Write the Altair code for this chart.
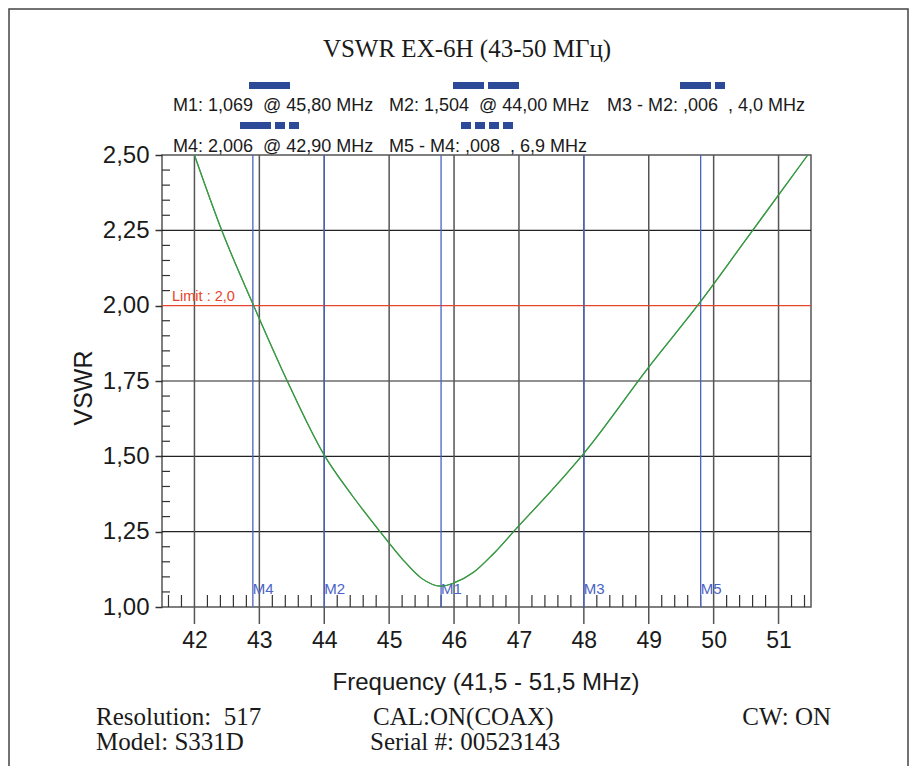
import altair as alt
import pandas as pd

# ---------------- data ----------------
freq_mhz = [42.0, 42.42, 42.9, 43.43, 44.0, 44.43, 44.86, 45.2, 45.5, 45.8, 46.0, 46.3,
            46.6, 47.0, 47.5, 48.0, 49.0, 49.8, 50.5, 51.45]
vswr = [2.50, 2.25, 2.006, 1.75, 1.504, 1.37, 1.25, 1.16, 1.095, 1.069, 1.08, 1.115,
        1.175, 1.27, 1.386, 1.51, 1.796, 2.014, 2.22, 2.50]

marker_names = ["M4", "M2", "M1", "M3", "M5"]
marker_freqs = [42.9, 44.0, 45.8, 48.0, 49.8]

limit_value = 2.0
limit_label = "Limit : 2,0"

x_ticks = [42, 43, 44, 45, 46, 47, 48, 49, 50, 51]
y_ticks = [1.0, 1.25, 1.5, 1.75, 2.0, 2.25, 2.5]
h_grid = [1.25, 1.5, 1.75, 2.25]

title_text = "VSWR EX-6H (43-50 МГц)"
legend_row1 = ["M1: 1,069 \u00a0@ 45,80 MHz", "M2: 1,504 \u00a0@ 44,00 MHz", "M3 - M2: ,006 \u00a0, 4,0 MHz"]
legend_row2 = ["M4: 2,006 \u00a0@ 42,90 MHz", "M5 - M4: ,008 \u00a0, 6,9 MHz"]
x_title = "Frequency (41,5 - 51,5 MHz)"
y_title = "VSWR"
info_left = ["Resolution: \u00a0517", "Model: S331D"]
info_mid = ["CAL:ON(COAX)", "Serial #: 00523143"]
info_right = ["CW: ON"]

# ---------------- layout ----------------
W, H = 649, 452
PAD_L, PAD_T, PAD_R, PAD_B = 154, 147, 98, 159
SANS = "Liberation Sans"
SERIF = "Liberation Serif"
xs = alt.Scale(domain=[41.5, 51.5], nice=False, zero=False)
ys = alt.Scale(domain=[1.0, 2.5], nice=False, zero=False)

x_axis = alt.Axis(values=x_ticks, format="d", ticks=False, domain=False, grid=False, title=None,
                  labelFont=SANS, labelFontSize=23, labelColor="#1a1a1a", labelPadding=22)
y_axis = alt.Axis(values=y_ticks, tickSize=7, tickColor="#333", tickWidth=1.5, domain=False,
                  grid=False, title=None, labelFont=SANS, labelFontSize=24, labelColor="#1a1a1a",
                  labelPadding=6,
                  labelExpr="replace(format(datum.value, '.2f'), '.', ',')")


def X(field):
    return alt.X(field, scale=xs, axis=x_axis, title=None)


def Y(field):
    return alt.Y(field, scale=ys, axis=y_axis, title=None)


one = pd.DataFrame({"a": [0]})


def txt(label, x, y, size, font=SANS, color="#1a1a1a", align="left", angle=0):
    kw = dict(align=align, baseline="alphabetic", font=font, fontSize=size, color=color)
    if angle:
        kw["angle"] = angle
    return alt.Chart(pd.DataFrame({"t": [label]})).mark_text(**kw).encode(
        x=alt.value(x), y=alt.value(y), text="t:N")


def swatch(x0, y0, widths, gap=4, h=7):
    out = []
    x = x0
    for w in widths:
        out.append(alt.Chart(one).mark_rect(color="#2d4a98").encode(
            x=alt.value(x), x2=alt.value(x + w), y=alt.value(y0), y2=alt.value(y0 + h)))
        x += w + gap
    return out


layers = []

# VSWR curve first (carries the axes)
cdf = pd.DataFrame({"f": freq_mhz, "v": vswr})
curve = alt.Chart(cdf).mark_line(color="#3a9a45", strokeWidth=1.2, interpolate="monotone").encode(
    x=X("f:Q"), y=Y("v:Q"))

# outer frame
layers.append(alt.Chart(one).mark_rect(fillOpacity=0, stroke="#444", strokeWidth=1.5).encode(
    x=alt.value(-PAD_L + 1), x2=alt.value(W + PAD_R - 1), y=alt.value(-146), y2=alt.value(H + PAD_B + 20)))

# horizontal grid
layers.append(alt.Chart(pd.DataFrame({"v": h_grid})).mark_rule(color="#222", strokeWidth=1.2).encode(
    y=Y("v:Q"), x=alt.value(0), x2=alt.value(W)))

# vertical grid (extends below plot as major ticks)
layers.append(alt.Chart(pd.DataFrame({"f": x_ticks})).mark_rule(color="#555", strokeWidth=1.5).encode(
    x=X("f:Q"), y=alt.value(0), y2=alt.value(H + 17)))

# minor x ticks (every 0.2 MHz)
minor_x = [round(41.6 + 0.2 * i, 1) for i in range(50)]
minor_x = [v for v in minor_x if abs(v - round(v)) > 1e-6 and v < 51.5]
layers.append(alt.Chart(pd.DataFrame({"f": minor_x})).mark_rule(color="#333", strokeWidth=1.2).encode(
    x=X("f:Q"), y=alt.value(H - 12), y2=alt.value(H)))

# minor y ticks (every 0.05)
minor_y = [round(1.05 + 0.05 * i, 2) for i in range(29)]
minor_y = [v for v in minor_y if all(abs(v - t) > 1e-6 for t in y_ticks)]
layers.append(alt.Chart(pd.DataFrame({"v": minor_y})).mark_rule(color="#333", strokeWidth=1.2).encode(
    y=Y("v:Q"), x=alt.value(0), x2=alt.value(8)))

# limit line
layers.append(alt.Chart(pd.DataFrame({"v": [limit_value]})).mark_rule(color="#e8432c", strokeWidth=1.3).encode(
    y=Y("v:Q"), x=alt.value(0), x2=alt.value(W)))
layers.append(txt(limit_label, 10, 146, 14.5, color="#e8432c"))

# marker lines + labels
mdf = pd.DataFrame({"f": marker_freqs, "m": marker_names})
layers.append(alt.Chart(mdf).mark_rule(color="#4a63c4", strokeWidth=1.3).encode(
    x=X("f:Q"), y=alt.value(0), y2=alt.value(H)))
layers.append(alt.Chart(mdf).mark_text(align="left", baseline="alphabetic", font=SANS, fontSize=15,
                                       color="#4a63c4").encode(
    x=X("f:Q"), y=alt.value(439), text="m:N"))

layers.append(curve)

# titles
layers.append(txt(title_text, 305, -98, 25, font=SERIF, align="center"))
layers.append(txt(x_title, 324, 535, 24, align="center"))
layers.append(txt(y_title, -70, 233, 25, align="center", angle=270))

# marker legend
row1_x = [11, 227, 445]
row2_x = [11, 227]
for s, x in zip(legend_row1, row1_x):
    layers.append(txt(s, x, -44, 18))
for s, x in zip(legend_row2, row2_x):
    layers.append(txt(s, x, -3, 18))
layers += swatch(87, -73, [41])
layers += swatch(291, -73, [31, 31])
layers += swatch(518, -73, [31, 10])
layers += swatch(78, -33, [31, 10, 10])
layers += swatch(299, -33, [10, 10, 10, 10])

# instrument info
layers.append(txt(info_left[0], -66, 570, 25, font=SERIF))
layers.append(txt(info_left[1], -66, 595, 25, font=SERIF))
layers.append(txt(info_mid[0], 211, 570, 25, font=SERIF))
layers.append(txt(info_mid[1], 208, 595, 25, font=SERIF))
layers.append(txt(info_right[0], 669, 570, 25, font=SERIF, align="right"))

chart = alt.layer(curve, *layers).properties(
    width=W, height=H, autosize="none",
    padding={"left": PAD_L, "top": PAD_T, "right": PAD_R, "bottom": PAD_B},
    background="white",
).configure_view(stroke="#555", strokeWidth=1.5)

chart.save("out.html", embed_options={"renderer": "svg", "actions": False})
